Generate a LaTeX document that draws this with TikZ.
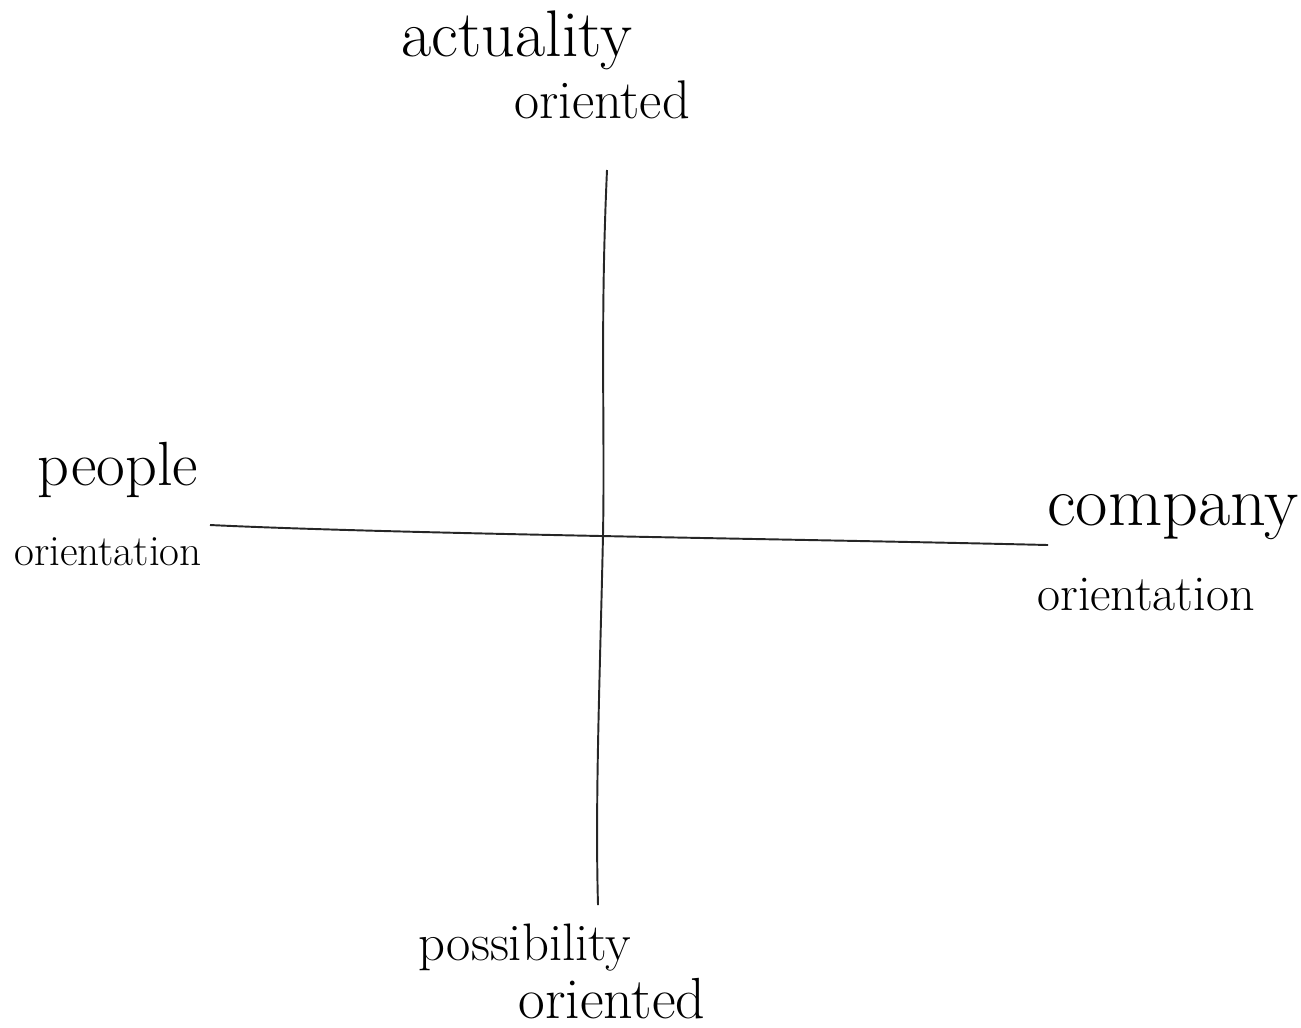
\documentclass[tikz,border=0pt]{standalone}
\usepackage{fontspec}
\usepackage{tikz}
\usetikzlibrary{positioning}

\begin{document}
\begin{tikzpicture}[
    axisline/.style={line width=1.1pt, black!85},
    axislabel/.style={anchor=base, inner sep=0pt}
  ]
  \useasboundingbox (0,0) rectangle (26.02,-20.54);
  % axes
  \coordinate (vtop) at (12.14,-3.4);
  \coordinate (vmid) at (12.06,-10.7);
  \coordinate (vbot) at (11.96,-18.1);
  \coordinate (hleft) at (4.2,-10.5);
  \coordinate (hright) at (20.96,-10.9);
  \draw[axisline] (vtop) .. controls (12.0,-6.5) and (12.1,-8.5) .. (vmid)
       .. controls (12.0,-13.5) and (11.9,-16) .. (vbot);
  \draw[axisline] (hleft) .. controls (8,-10.68) and (16,-10.78) .. (hright);
  % labels
  \node[axislabel, font=\fontsize{37.5}{44}\selectfont] (actual) at (10.34,-1.12) {actuality};
  \node[axislabel, font=\fontsize{31}{37}\selectfont] (actualor) at (12.04,-2.36) {oriented};
  \node[axislabel, font=\fontsize{35.5}{42}\selectfont] (people) at (2.36,-9.7) {people};
  \node[axislabel, font=\fontsize{24.6}{30}\selectfont] (peopleor) at (2.16,-11.3) {orientation};
  \node[axislabel, font=\fontsize{40}{48}\selectfont] (company) at (23.46,-10.5) {company};
  \node[axislabel, font=\fontsize{28.5}{34}\selectfont] (companyor) at (22.92,-12.2) {orientation};
  \node[axislabel, font=\fontsize{30}{36}\selectfont] (possib) at (10.5,-19.2) {possibility};
  \node[axislabel, font=\fontsize{33}{40}\selectfont] (possibor) at (12.24,-20.36) {oriented};
\end{tikzpicture}
\end{document}
